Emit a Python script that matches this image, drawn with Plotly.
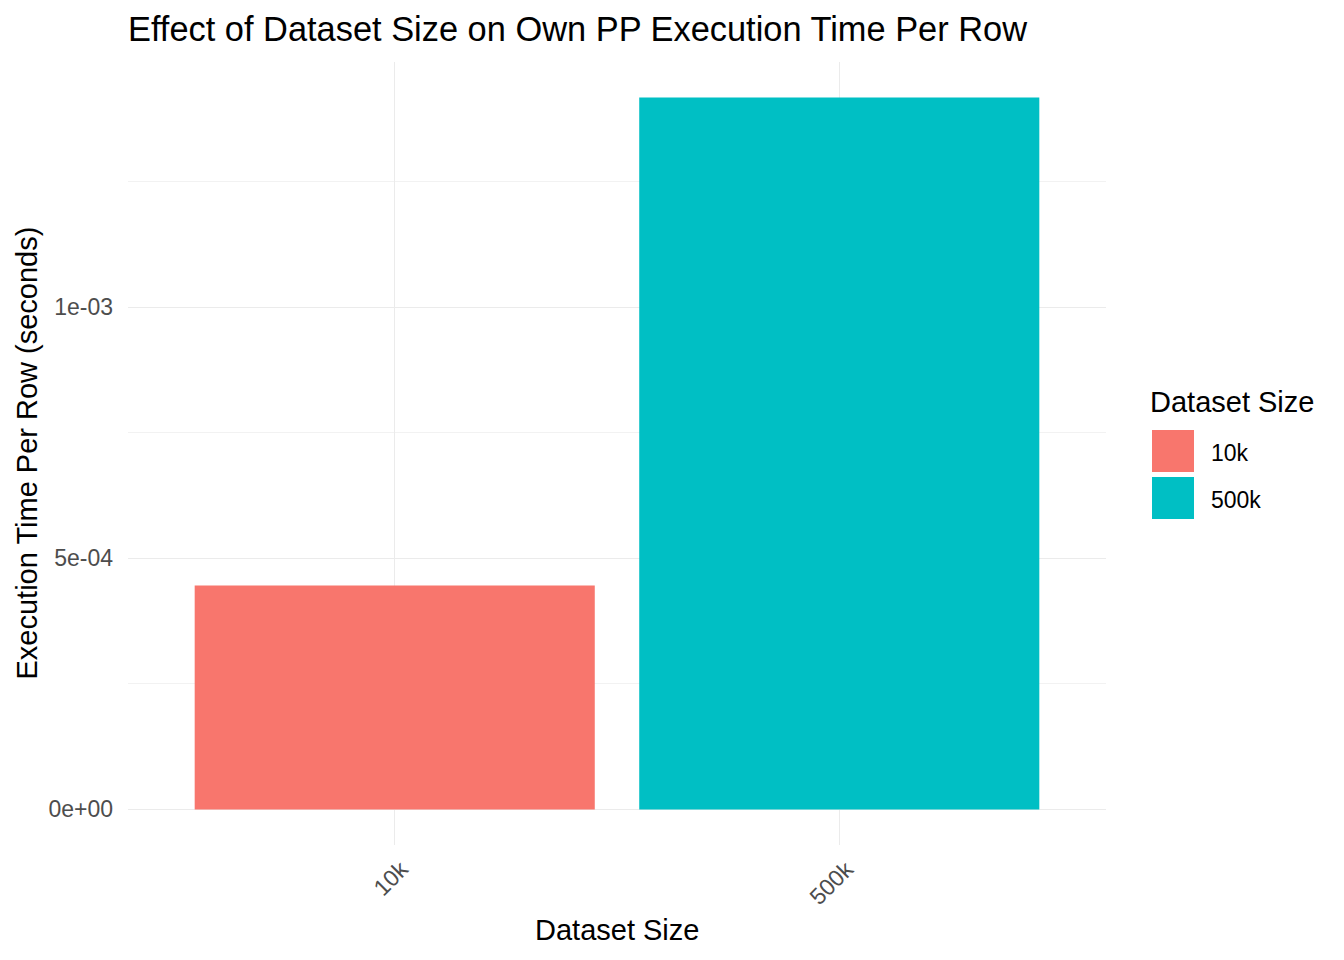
import plotly.graph_objects as go

categories = ["10k", "500k"]
exec_time_per_row = [4.46e-4, 1.418e-3]
colors = ["#F8766D", "#00BFC4"]
y_tickvals = [0, 5e-4, 1e-3]
y_ticktext = ["0e+00", "5e-04", "1e-03"]
minor_vals = [2.5e-4, 7.5e-4, 1.25e-3]

W, H = 1344, 960
L, R, T, B = 128, 1106, 62, 845

def px_x(p):
    return (p - L) / (R - L)

def px_y(p):
    return (B - p) / (B - T)

# approximate Liberation Sans advance widths (em units)
CHAR_W = {d: 0.556 for d in "0123456789"}
CHAR_W.update({"k": 0.5})

def text_len(s, size):
    return sum(CHAR_W.get(ch, 0.55) for ch in s) * size

fig = go.Figure()
for c, v, col in zip(categories, exec_time_per_row, colors):
    fig.add_trace(go.Bar(x=[c], y=[v], marker=dict(color=col, line=dict(width=0)),
                         width=0.9, name=c, showlegend=False))

ymax = max(exec_time_per_row)
ypad = ymax * 0.05

font = "Liberation Sans, Arial, sans-serif"
fig.update_layout(
    width=W, height=H,
    margin=dict(l=L, r=W - R, t=T, b=H - B),
    plot_bgcolor="white", paper_bgcolor="white",
    barmode="overlay",
    font=dict(family=font),
    title=dict(text="Effect of Dataset Size on Own PP Execution Time Per Row",
               x=0, xref="paper", xanchor="left", y=1 - 29 / H, yref="container",
               yanchor="middle", font=dict(size=34.4, color="black", family=font)),
    xaxis=dict(type="category", categoryorder="array", categoryarray=categories,
               range=[-0.6, 1.6], showgrid=True, gridcolor="#EBEBEB", gridwidth=1.1,
               zeroline=False, showline=False, ticks="", showticklabels=False),
    yaxis=dict(range=[-ypad, ymax + ypad], tickvals=y_tickvals, ticktext=y_ticktext,
               showgrid=True, gridcolor="#EBEBEB", gridwidth=1.1, zeroline=False,
               showline=False, ticks="", ticklabelstandoff=14,
               tickfont=dict(size=23, color="#4D4D4D", family=font),
               minor=dict(tickvals=minor_vals, showgrid=True, gridcolor="#F2F2F2",
                          gridwidth=0.6)),
)

# rotated x tick labels (ggplot angle=45, hjust=1): text ends just right/below tick
tick_size = 23
for c in categories:
    half = 0.7071 * text_len(c, tick_size) / 2
    fig.add_annotation(text=c, x=c, xref="x", y=0, yref="paper", textangle=-45,
                       xanchor="center", yanchor="middle", showarrow=False,
                       xshift=9.5 - half, yshift=-(20 + half),
                       font=dict(size=tick_size, color="#4D4D4D", family=font))

# axis titles
fig.add_annotation(text="Dataset Size", xref="paper", yref="paper", x=0.5,
                   y=px_y(930), showarrow=False, yanchor="middle",
                   font=dict(size=29, color="black", family=font))
fig.add_annotation(text="Execution Time Per Row (seconds)", xref="paper", yref="paper",
                   x=px_x(26), y=0.5, textangle=-90, showarrow=False,
                   xanchor="center", yanchor="middle",
                   font=dict(size=29, color="black", family=font))

# legend (drawn manually, ggplot style)
fig.add_annotation(text="Dataset Size", xref="paper", yref="paper", x=px_x(1148),
                   y=px_y(402), xanchor="left", yanchor="middle", showarrow=False,
                   font=dict(size=29, color="black", family=font))
key_tops = [430, 477]
for c, col, top in zip(categories, colors, key_tops):
    fig.add_shape(type="rect", xref="paper", yref="paper",
                  x0=px_x(1152), x1=px_x(1194), y0=px_y(top + 42), y1=px_y(top),
                  fillcolor=col, line=dict(width=0))
    fig.add_annotation(text=c, xref="paper", yref="paper", x=px_x(1209),
                       y=px_y(top + 23), xanchor="left", yanchor="middle",
                       showarrow=False, font=dict(size=23, color="black", family=font))

fig.write_html("out.html")
